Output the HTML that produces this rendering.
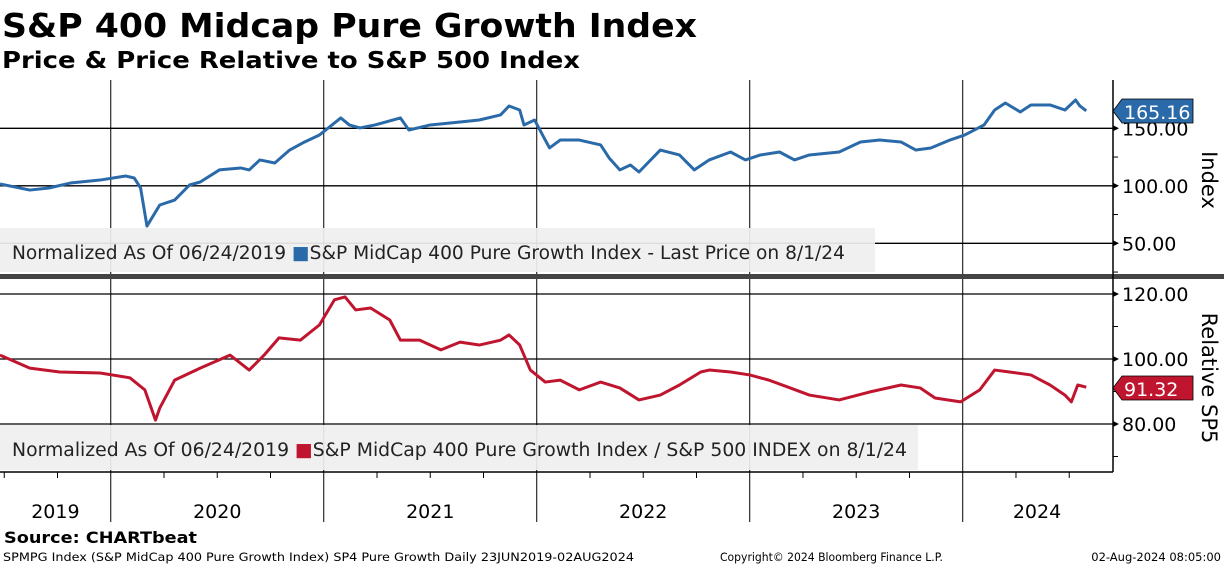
<!DOCTYPE html>
<html><head><meta charset="utf-8"><style>
body{margin:0;background:#fff;width:1224px;height:566px;overflow:hidden;font-family:"DejaVu Sans",sans-serif}
svg text{font-family:"DejaVu Sans","Liberation Sans",sans-serif}
</style></head><body>
<svg width="1224" height="566" viewBox="0 0 1224 566" xmlns="http://www.w3.org/2000/svg">
<text x="2" y="37" font-size="33" font-weight="bold" textLength="695" lengthAdjust="spacingAndGlyphs">S&amp;P 400 Midcap Pure Growth Index</text>
<text x="2" y="68" font-size="23" font-weight="bold" textLength="578" lengthAdjust="spacingAndGlyphs">Price &amp; Price Relative to S&amp;P 500 Index</text>
<g id="grid"></g>
<rect x="0" y="228" width="875" height="44" fill="#efefef" opacity="0.92"/>
<text x="12" y="259" font-size="18.5" fill="#222" textLength="833" lengthAdjust="spacingAndGlyphs">Normalized As Of 06/24/2019  <tspan fill="#2a6aa8">■</tspan>S&amp;P MidCap 400 Pure Growth Index - Last Price on 8/1/24</text>
<rect x="0" y="425" width="918" height="45" fill="#efefef" opacity="0.92"/>
<text x="12" y="456" font-size="18.5" fill="#222" textLength="895" lengthAdjust="spacingAndGlyphs">Normalized As Of 06/24/2019  <tspan fill="#c0152f">■</tspan>S&amp;P MidCap 400 Pure Growth Index / S&amp;P 500 INDEX on 8/1/24</text>
<g id="series"></g>
<rect x="0" y="274" width="1224" height="5" fill="#444"/>
<line x1="1113" y1="80" x2="1113" y2="472" stroke="#000" stroke-width="1.5"/>
<line x1="0" y1="472" x2="1113" y2="472" stroke="#000" stroke-width="1.5"/>
<g id="axes"></g>
<text transform="translate(1202,180) rotate(90)" font-size="21" text-anchor="middle">Index</text>
<text transform="translate(1202,378) rotate(90)" font-size="21" text-anchor="middle">Relative SP5</text>
<polygon points="1113,111 1122,99 1193,99 1193,123 1122,123" fill="#2a6aa8" stroke="#000" stroke-width="0.8"/>
<text x="1124" y="119" font-size="19" fill="#fff">165.16</text>
<polygon points="1113,388 1122,376 1193,376 1193,400 1122,400" fill="#c0152f" stroke="#000" stroke-width="0.8"/>
<text x="1124" y="396" font-size="19" fill="#fff">91.32</text>
<text x="4" y="543" font-size="16" font-weight="bold" textLength="193" lengthAdjust="spacingAndGlyphs">Source: CHARTbeat</text>
<text x="3" y="561" font-size="11.5" textLength="631" lengthAdjust="spacingAndGlyphs">SPMPG Index (S&amp;P MidCap 400 Pure Growth Index) SP4 Pure Growth  Daily 23JUN2019-02AUG2024</text>
<text x="720" y="561" font-size="11.5" textLength="223" lengthAdjust="spacingAndGlyphs">Copyright© 2024 Bloomberg Finance L.P.</text>
<text x="1221" y="561" font-size="11.5" text-anchor="end">02-Aug-2024 08:05:00</text>
</svg>
<script>
const priceDates=[2019.48,2019.62,2019.71,2019.81,2019.95,2020.07,2020.11,2020.14,2020.17,2020.23,2020.30,2020.37,2020.42,2020.51,2020.61,2020.65,2020.70,2020.77,2020.84,2020.91,2020.98,2021.08,2021.12,2021.17,2021.24,2021.36,2021.40,2021.50,2021.64,2021.73,2021.83,2021.87,2021.92,2021.94,2021.99,2022.04,2022.06,2022.11,2022.20,2022.30,2022.34,2022.39,2022.44,2022.48,2022.58,2022.67,2022.74,2022.81,2022.91,2022.98,2023.05,2023.14,2023.21,2023.28,2023.42,2023.52,2023.61,2023.71,2023.78,2023.85,2023.94,2024.01,2024.10,2024.15,2024.20,2024.27,2024.32,2024.41,2024.48,2024.53,2024.55,2024.58];
const priceValues=[101.6,96.3,98.1,102.4,105.0,108.5,106.8,98.1,65.0,83.3,87.6,100.7,103.3,113.8,115.5,113.8,122.5,119.8,131.1,138.1,144.2,159.0,152.9,150.3,152.9,159.0,148.5,152.9,155.5,157.2,161.6,169.4,165.9,152.9,157.2,139.8,132.9,139.8,139.8,135.5,124.2,113.8,118.1,112.0,131.1,126.8,113.8,122.5,129.4,122.5,126.8,129.4,122.5,126.8,129.4,138.1,139.8,138.1,131.1,132.9,139.8,144.2,152.9,165.9,172.0,164.2,170.3,170.3,165.9,174.6,169.4,165.16];
const relDates=[2019.48,2019.62,2019.76,2019.95,2020.09,2020.16,2020.21,2020.23,2020.30,2020.42,2020.56,2020.65,2020.72,2020.79,2020.89,2020.98,2021.05,2021.10,2021.15,2021.22,2021.31,2021.36,2021.45,2021.55,2021.64,2021.73,2021.83,2021.87,2021.92,2021.97,2022.04,2022.11,2022.20,2022.30,2022.39,2022.48,2022.58,2022.67,2022.77,2022.81,2022.91,2023.00,2023.09,2023.19,2023.28,2023.42,2023.56,2023.71,2023.80,2023.87,2023.99,2024.08,2024.15,2024.22,2024.32,2024.41,2024.48,2024.51,2024.54,2024.58];
const relValues=[101.2,97.2,96.0,95.7,94.2,90.5,81.2,84.9,93.5,97.2,101.2,96.6,101.2,106.5,105.8,110.5,118.2,119.1,115.1,115.7,112.0,105.8,105.8,102.8,105.2,104.3,105.8,107.4,104.3,96.6,92.9,93.5,90.5,92.9,91.1,87.4,88.9,92.0,96.0,96.6,96.0,95.1,93.5,91.1,88.9,87.4,89.8,92.0,91.1,88.0,86.8,90.5,96.6,96.0,95.1,92.0,88.9,86.8,92.0,91.32];
const priceTicks=[50,100,150];
const relTicks=[80,100,120];
const years=[2019,2020,2021,2022,2023,2024];

const NS="http://www.w3.org/2000/svg";
const xS=t=>(t-2019.48)/0.004695;
const yP=v=>128.3-(v-150)*1.15;
const yR=v=>359-(v-100)*3.25;
function mk(tag,attrs,parent){const e=document.createElementNS(NS,tag);for(const k in attrs)e.setAttribute(k,attrs[k]);document.getElementById(parent).appendChild(e);return e;}

priceTicks.forEach(v=>{
  const l=mk('line',{x1:0,x2:1113,y1:yP(v),y2:yP(v),stroke:'#000','stroke-width':1.3},'grid');
  
  
  const a=mk('polygon',{points:`1113,${yP(v)-3} 1119,${yP(v)} 1113,${yP(v)+3}`,fill:'#000'},'axes');
  
  
  const t=mk('text',{x:1122,y:yP(v)+7,'font-size':19},'axes');t.textContent=v.toFixed(2);
  
  
});
relTicks.forEach(v=>{
  const l=mk('line',{x1:0,x2:1113,y1:yR(v),y2:yR(v),stroke:'#000','stroke-width':1.3},'grid');
  
  
  const a=mk('polygon',{points:`1113,${yR(v)-3} 1119,${yR(v)} 1113,${yR(v)+3}`,fill:'#000'},'axes');
  
  
  const t=mk('text',{x:1122,y:yR(v)+7,'font-size':19},'axes');t.textContent=v.toFixed(2);
  
  
});
[yP(125),yP(75),yP(25),yR(110),yR(90),yR(70)].forEach(y=>{
  const m=mk('line',{x1:1113,x2:1118,y1:y,y2:y,stroke:'#000'},'axes');
  
  
});
years.forEach((yr,i)=>{
  if(i>0){
    const x=xS(yr);
    const l=mk('line',{x1:x,x2:x,y1:80,y2:522,stroke:'#000','stroke-width':1},'grid');
    
    
  }
  const s=Math.max(yr,2019.48),e=Math.min(yr+1,2024.58);
  [0.25,0.5,0.75].forEach(q=>{const x=xS(yr+q);if(x>0&&x<1113){const m=mk('line',{x1:x,x2:x,y1:472,y2:478,stroke:'#000'},'axes');}});
  const cx=(xS(s)+Math.min(xS(e),1113))/2;
  const t=mk('text',{x:yr===2024?1037:cx,y:518,'font-size':19,'text-anchor':'middle'},'axes');t.textContent=yr;
  
  
});
const p1=mk('polyline',{points:priceDates.map((t,i)=>xS(t)+','+yP(priceValues[i])).join(' '),fill:'none',stroke:'#2a6aa8','stroke-width':3,'stroke-linejoin':'round'},'series');


const p2=mk('polyline',{points:relDates.map((t,i)=>xS(t)+','+yR(relValues[i])).join(' '),fill:'none',stroke:'#c0152f','stroke-width':3,'stroke-linejoin':'round'},'series');


</script>
</body></html>
